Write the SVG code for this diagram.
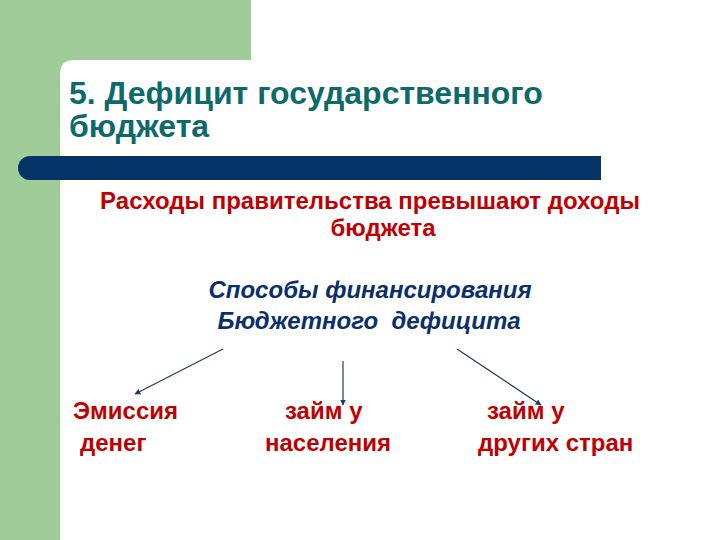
<svg xmlns="http://www.w3.org/2000/svg" width="720" height="540" viewBox="0 0 720 540">
<defs>
<style>
.title{font-family:"Liberation Sans",Arial,sans-serif;font-weight:bold;font-size:32px;fill:#0E6A6A}
.red{font-family:"Liberation Sans",Arial,sans-serif;font-weight:bold;font-size:24px;fill:#C00000}
.blue{font-family:"Liberation Sans",Arial,sans-serif;font-weight:bold;font-style:italic;font-size:24px;fill:#0A2F6B}
.conn{stroke:#1F3B63;stroke-width:1.2;fill:none;marker-end:url(#ah)}
</style>
<marker id="ah" viewBox="0 0 10 10" refX="9" refY="5" markerWidth="6" markerHeight="6" orient="auto" markerUnits="userSpaceOnUse">
<path d="M0,0 L10,5 L0,10 z" fill="#1F3B63"/>
</marker>
</defs>
<rect width="720" height="540" fill="#ffffff"/>
<g id="background">
<rect x="0" y="0" width="251" height="60" fill="#A0CC9A"/>
<rect x="0" y="0" width="60" height="540" fill="#A0CC9A"/>
<path d="M60,60 L60,74 Q60,60 74,60 Z" fill="#A0CC9A"/>
<path d="M30,156 L601,156 L601,180 L30,180 A12,12 0 0 1 18,168 A12,12 0 0 1 30,156 Z" fill="#043366"/>
</g>
<g id="title">
<text class="title" x="69" y="104">5. Дефицит государственного</text>
<text class="title" x="69" y="137">бюджета</text>
</g>
<g id="definition">
<text class="red" x="370" y="209" text-anchor="middle">Расходы правительства превышают доходы</text>
<text class="red" x="383" y="236" text-anchor="middle">бюджета</text>
</g>
<g id="methods">
<text class="blue" x="370" y="298" text-anchor="middle">Способы финансирования</text>
<text class="blue" x="369" y="329" text-anchor="middle" xml:space="preserve">Бюджетного  дефицита</text>
</g>
<g id="emission">
<text class="red" x="73" y="419">Эмиссия</text>
<text class="red" x="80" y="451">денег</text>
</g>
<g id="loan-population">
<text class="red" x="285" y="419">займ у</text>
<text class="red" x="265" y="451">населения</text>
</g>
<g id="loan-countries">
<text class="red" x="487" y="419">займ у</text>
<text class="red" x="478" y="451">других стран</text>
</g>
<g id="connectors">
<line class="conn" x1="223" y1="349" x2="135" y2="394"/>
<line class="conn" x1="343" y1="361" x2="343" y2="405"/>
<line class="conn" x1="457" y1="349" x2="541" y2="405"/>
</g>
</svg>
